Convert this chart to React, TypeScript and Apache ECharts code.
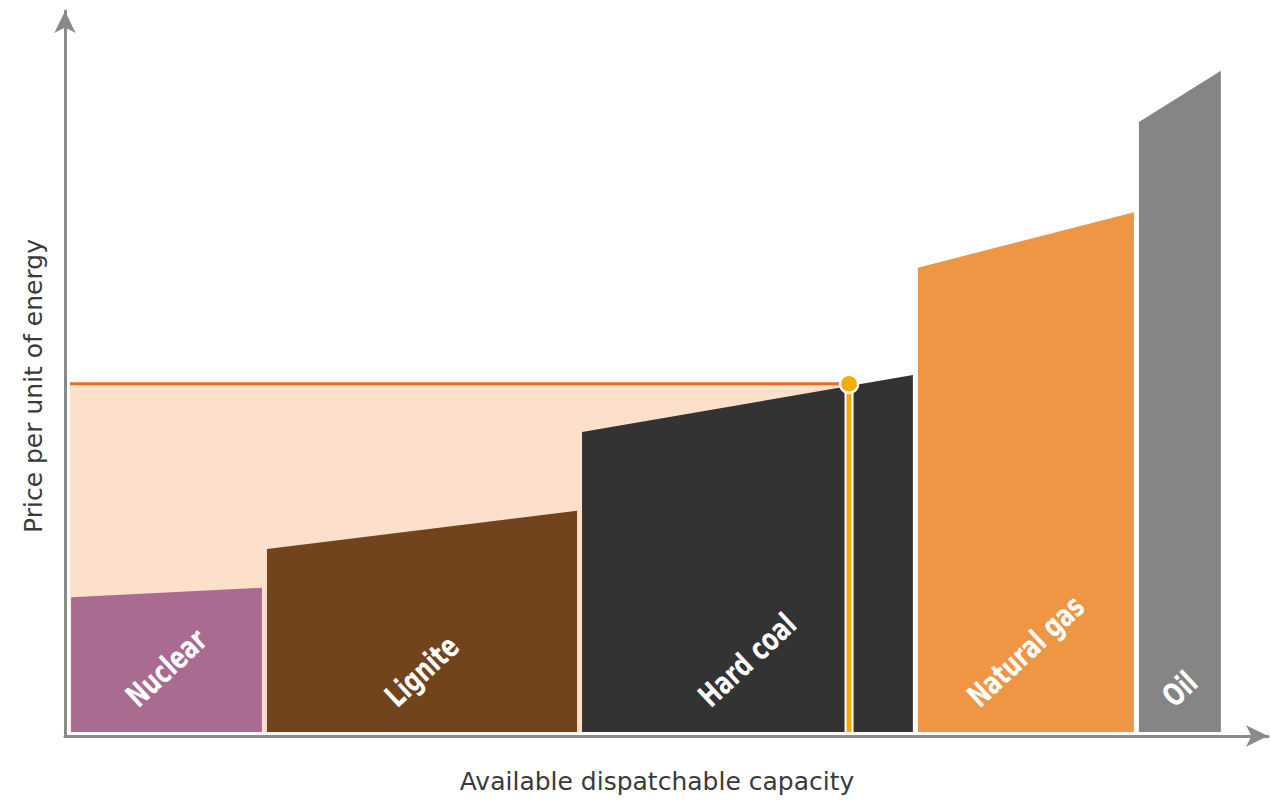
import React, { useEffect, useRef } from "react";
import * as echarts from "echarts";

// Merit order data (arbitrary units)
const technologies = ["Nuclear", "Lignite", "Hard coal", "Natural gas", "Oil"];
const capacities = [16.33, 26.27, 28.0, 18.43, 7.25];
const priceAtStart = [18.7, 25.4, 41.6, 64.4, 84.6];
const priceAtEnd = [20.0, 30.7, 49.5, 72.1, 91.7];
const clearingCapacity = [65.07];
const clearingPrice = [48.3];
const axisTitles = ["Available dispatchable capacity", "Price per unit of energy"];

const blockColors = ["#a96b8f", "#72441d", "#333333", "#ee9644", "#858585"];
const LABEL_FONT = "'DejaVu Sans Condensed', 'Liberation Sans Narrow', sans-serif";
const TITLE_FONT = "'DejaVu Sans', sans-serif";
const LABEL_SIZE = 31;
const LABEL_SCALE_X = 0.8;

function measure(text: string): number {
  const c = document.createElement("canvas").getContext("2d");
  if (!c) return text.length * 14;
  c.font = `bold ${LABEL_SIZE}px ${LABEL_FONT}`;
  return c.measureText(text).width * LABEL_SCALE_X;
}

export default function App() {
  const ref = useRef<HTMLDivElement>(null);
  useEffect(() => {
    if (!ref.current) return;
    const chart = echarts.init(ref.current, undefined, { renderer: "svg" });

    let acc = 0;
    const blocks = capacities.map((w, i) => {
      const s = acc;
      acc += w;
      return [s, acc, priceAtStart[i], priceAtEnd[i], i];
    });
    const ang = (43 * Math.PI) / 180;

    const axisCommon = {
      type: "value" as const,
      axisTick: { show: false },
      axisLabel: { show: false },
      splitLine: { show: false },
      axisLine: {
        show: true,
        onZero: false,
        symbol: ["none", "arrow"],
        symbolSize: [16, 22],
        lineStyle: { color: "#8a8a8a", width: 3 },
      },
    };

    chart.setOption({
      animation: false,
      backgroundColor: "#ffffff",
      grid: { left: 65, right: 2, top: 11, bottom: 64 },
      xAxis: { ...axisCommon, min: -0.3, max: 100 },
      yAxis: { ...axisCommon, min: -0.55, max: 100 },
      graphic: [
        {
          type: "text",
          x: 657,
          y: 781,
          style: {
            text: axisTitles[0],
            align: "center",
            verticalAlign: "middle",
            fill: "#3a3a3a",
            fontSize: 25,
            fontFamily: TITLE_FONT,
          },
        },
        {
          type: "text",
          x: 33,
          y: 386,
          rotation: Math.PI / 2,
          style: {
            text: axisTitles[1],
            align: "center",
            verticalAlign: "middle",
            fill: "#3a3a3a",
            fontSize: 25,
            fontFamily: TITLE_FONT,
          },
        },
      ],
      series: [
        {
          type: "custom",
          z: 1,
          data: [[clearingCapacity[0], clearingPrice[0]]],
          renderItem: (_p: any, api: any) => {
            const a = api.coord([0, 0]);
            const b = api.coord([api.value(0), api.value(1)]);
            return {
              type: "rect",
              shape: { x: a[0] + 1.5, y: b[1], width: b[0] - a[0] - 1.5, height: a[1] - b[1] },
              style: { fill: "#fde0cc" },
            };
          },
        },
        {
          type: "custom",
          z: 2,
          data: blocks,
          renderItem: (_p: any, api: any) => {
            const x0 = api.value(0), x1 = api.value(1);
            const yl = api.value(2), yr = api.value(3);
            const idx = api.value(4);
            const b0 = api.coord([x0, 0]);
            const b1 = api.coord([x1, 0]);
            const t0 = api.coord([x0, yl]);
            const t1 = api.coord([x1, yr]);
            const inset = 2.5;
            const l = b0[0] + inset, r = b1[0] - inset;
            const name = technologies[idx];
            const L = measure(name);
            const cx = (l + r) / 2;
            const cy = b0[1] - 31 - (L / 2) * Math.sin(ang);
            return {
              type: "group",
              children: [
                {
                  type: "polygon",
                  shape: { points: [[l, b0[1]], [l, t0[1]], [r, t1[1]], [r, b1[1]]] },
                  style: { fill: blockColors[idx] },
                },
                {
                  type: "text",
                  x: cx,
                  y: cy,
                  rotation: ang,
                  scaleX: LABEL_SCALE_X,
                  style: {
                    text: name,
                    x: 0,
                    y: 0,
                    align: "center",
                    verticalAlign: "middle",
                    fill: "#ffffff",
                    fontSize: LABEL_SIZE,
                    fontWeight: "bold",
                    fontFamily: LABEL_FONT,
                  },
                },
              ],
            };
          },
        },
        {
          type: "custom",
          z: 3,
          data: [[clearingCapacity[0], clearingPrice[0]]],
          renderItem: (_p: any, api: any) => {
            const o = api.coord([0, 0]);
            const c = api.coord([api.value(0), api.value(1)]);
            return {
              type: "group",
              children: [
                {
                  type: "line",
                  shape: { x1: o[0] + 1.5, y1: c[1], x2: c[0], y2: c[1] },
                  style: { stroke: "#ee6a1a", lineWidth: 3 },
                },
                {
                  type: "line",
                  shape: { x1: c[0], y1: c[1], x2: c[0], y2: o[1] },
                  style: { stroke: "#ffffff", lineWidth: 9 },
                },
                {
                  type: "line",
                  shape: { x1: c[0], y1: c[1], x2: c[0], y2: o[1] },
                  style: { stroke: "#f8a800", lineWidth: 5 },
                },
                {
                  type: "circle",
                  shape: { cx: c[0], cy: c[1], r: 9 },
                  style: { fill: "#f9ac00", stroke: "#ffffff", lineWidth: 2.5 },
                },
              ],
            };
          },
        },
      ],
    });
    return () => chart.dispose();
  }, []);
  return (
    <div
      ref={ref}
      style={{ position: "absolute", left: 0, top: 0, width: 1270, height: 800 }}
    />
  );
}
